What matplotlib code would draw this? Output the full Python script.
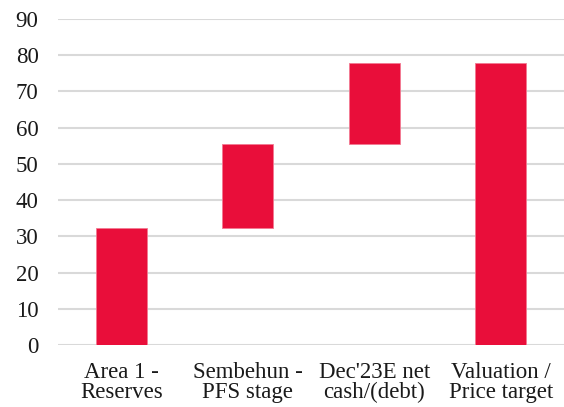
import matplotlib
matplotlib.use("Agg")
import matplotlib.pyplot as plt

# Sum-of-the-parts valuation bridge (per share)
categories = ["Area 1 -\nReserves", "Sembehun -\nPFS stage", "Dec'23E net\ncash/(debt)", "Valuation /\nPrice target"]
components = [32.4, 23.0, 22.3]   # incremental contributions
total = 77.7                       # valuation / price target
yticks = [0, 10, 20, 30, 40, 50, 60, 70, 80, 90]

plt.rcParams["font.family"] = ["Liberation Serif", "DejaVu Serif"]

fig = plt.figure(figsize=(5.64, 4.07), dpi=100)
ax = fig.add_axes([0.1028, 0.1516, 0.8972, 0.8025])

bar_color = "#E90E3A"
bases = []
running = 0.0
for v in components:
    bases.append(running)
    running += v
heights = components + [total]
bases = bases + [0]

x = list(range(len(categories)))
ax.bar(x, heights, bottom=bases, width=0.4, color=bar_color,
       edgecolor="#F27A92", linewidth=0.6, zorder=3)

ax.set_xlim(-0.5, len(categories) - 0.5)
ax.set_ylim(0, 90)
ax.set_yticks(yticks)
ax.set_yticklabels([str(t) for t in yticks])
ax.set_xticks(x)
ax.set_xticklabels(categories, linespacing=0.95)

ax.yaxis.grid(True, color="#D9D9D9", linewidth=1.5, zorder=0)
ax.set_axisbelow(True)
for s in ax.spines.values():
    s.set_visible(False)

ax.tick_params(axis="y", length=0, pad=14, labelsize=16.5, colors="#1a1a1a")
ax.tick_params(axis="x", length=0, pad=12, labelsize=16.5, colors="#1a1a1a")

fig.savefig("out.png", dpi=100)
